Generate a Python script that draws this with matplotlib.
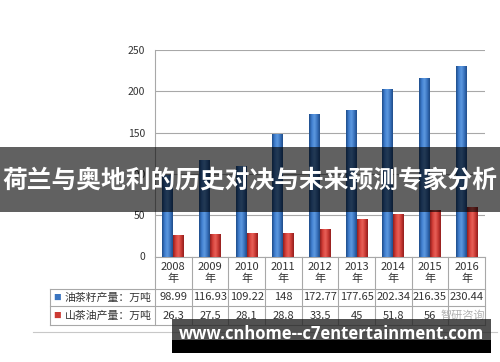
import matplotlib
matplotlib.use("Agg")
import matplotlib.pyplot as plt
import numpy as np
from matplotlib.transforms import blended_transform_factory
from matplotlib.colors import LinearSegmentedColormap
from matplotlib.patches import Rectangle

plt.rcParams['font.family'] = ['Noto Sans CJK SC', 'DejaVu Sans']

years = ["2008", "2009", "2010", "2011", "2012", "2013", "2014", "2015", "2016"]
seed_output = [98.99, 116.93, 109.22, 148, 172.77, 177.65, 202.34, 216.35, 230.44]
oil_output = [26.3, 27.5, 28.1, 28.8, 33.5, 45, 51.8, 56, 60]
series_names = ["油茶籽产量：万吨", "山茶油产量：万吨"]
yticks = [0, 50, 100, 150, 200, 250]
title_text = "荷兰与奥地利的历史对决与未来预测专家分析"
footer_text = "www.cnhome--c7entertainment.com"
watermark_text = "智研咨询"

W, H = 500, 362
fig = plt.figure(figsize=(W / 100, H / 100), dpi=100)
ax = fig.add_axes([155 / W, 1 - 256.5 / H, 330 / W, 206.5 / H])

x = np.arange(len(years))
bw = 0.3
blue_cmap = LinearSegmentedColormap.from_list("b", ["#1d4a86", "#3f7fd0", "#5f9ae0", "#3a74c0", "#1f4c88"])
red_cmap = LinearSegmentedColormap.from_list("r", ["#8e1c1c", "#d8413a", "#e8625a", "#cc3a33", "#901d1d"])

b1 = ax.bar(x - bw / 2, seed_output, bw, color="#3a74c0", zorder=2)
b2 = ax.bar(x + bw / 2, oil_output, bw, color="#cc3a33", zorder=2)
grad = np.linspace(0, 1, 64).reshape(1, -1)
for bars, cmap in ((b1, blue_cmap), (b2, red_cmap)):
    for p in bars:
        x0, y0, w, h = p.get_x(), p.get_y(), p.get_width(), p.get_height()
        im = ax.imshow(grad, cmap=cmap, aspect="auto", extent=(x0, x0 + w, y0, y0 + h),
                       zorder=3, interpolation="bicubic")
        im.set_clip_path(p)

ax.set_xlim(-0.5, len(years) - 0.5)
ax.set_ylim(0, 250)
ax.set_yticks(yticks)
ax.set_xticks([])
ax.tick_params(axis="y", length=0, pad=7, labelsize=7.5, labelcolor="#333333")
ax.grid(axis="y", color="#a8a8a8", lw=0.8, zorder=0)
for s in ("top", "right", "bottom"):
    ax.spines[s].set_visible(False)
ax.spines["left"].set_color("#a8a8a8")
ax.spines["left"].set_linewidth(0.8)

# data table
tr = blended_transform_factory(ax.transData, ax.transAxes)
ylines = [0, -0.157, -0.240, -0.332]
left = -3.36
lc = "#a8a8a8"
ax.plot([-0.5, len(years) - 0.5], [0, 0], transform=tr, color=lc, lw=0.8, clip_on=False)
for yl in ylines[1:]:
    ax.plot([left, len(years) - 0.5], [yl, yl], transform=tr, color=lc, lw=0.8, clip_on=False)
for i in range(len(years) + 1):
    ax.plot([i - 0.5, i - 0.5], [0, ylines[-1]], transform=tr, color=lc, lw=0.8, clip_on=False)
ax.plot([left, left], [ylines[1], ylines[-1]], transform=tr, color=lc, lw=0.8, clip_on=False)

for i, yr in enumerate(years):
    ax.text(i, (ylines[0] + ylines[1]) / 2, f"{yr}\n年", transform=tr, ha="center", va="center",
            fontsize=8, color="#333333", linespacing=1.15)
rows = [seed_output, oil_output]
colors = ["#3a74c0", "#cc3a33"]
for r, (vals, name, c) in enumerate(zip(rows, series_names, colors)):
    yc = (ylines[r + 1] + ylines[r + 2]) / 2
    for i, v in enumerate(vals):
        if r == 1 and i == len(vals) - 1:
            continue
        ax.text(i, yc, f"{v:g}", transform=tr, ha="center", va="center", fontsize=8, color="#333333")
    ax.text(-0.6, yc, name, transform=tr, ha="right", va="center", fontsize=7.8, color="#333333")
    ax.text(-3.27, yc, "■", transform=tr, ha="left", va="center", fontsize=5.5, color=c)

ax.text(len(years) - 0.5, (ylines[2] + ylines[3]) / 2, watermark_text, transform=tr, ha="right",
        va="center", fontsize=8, color="#b0b0b0")

# separator line
fig.add_artist(plt.Line2D([33 / W, 497 / W], [1 - 331.5 / H] * 2, color="#c8c8c8", lw=0.8))

# top banner
fig.add_artist(Rectangle((0, 1 - 212 / H), 1, 65 / H, transform=fig.transFigure,
                         facecolor="black", alpha=0.62, edgecolor="none", zorder=10))
fig.text(0.5, 1 - 181 / H, title_text, ha="center", va="center", fontsize=17.8,
         fontweight="bold", color="white", zorder=11)

# bottom banner
fig.add_artist(Rectangle((172 / W, 1 - 340 / H), 319 / W, 21 / H, transform=fig.transFigure,
                         facecolor="#202020", alpha=0.78, edgecolor="none", zorder=10))
fig.add_artist(Rectangle((172 / W, 1 - 353 / H), 319 / W, 13 / H, transform=fig.transFigure,
                         facecolor="black", edgecolor="none", zorder=10))
fig.text(331 / W, 1 - 334 / H, footer_text, ha="center", va="center", fontsize=12,
         fontweight="bold", color="white", family=["Open Sans", "DejaVu Sans"], zorder=11)

fig.savefig("out.png", dpi=100)
